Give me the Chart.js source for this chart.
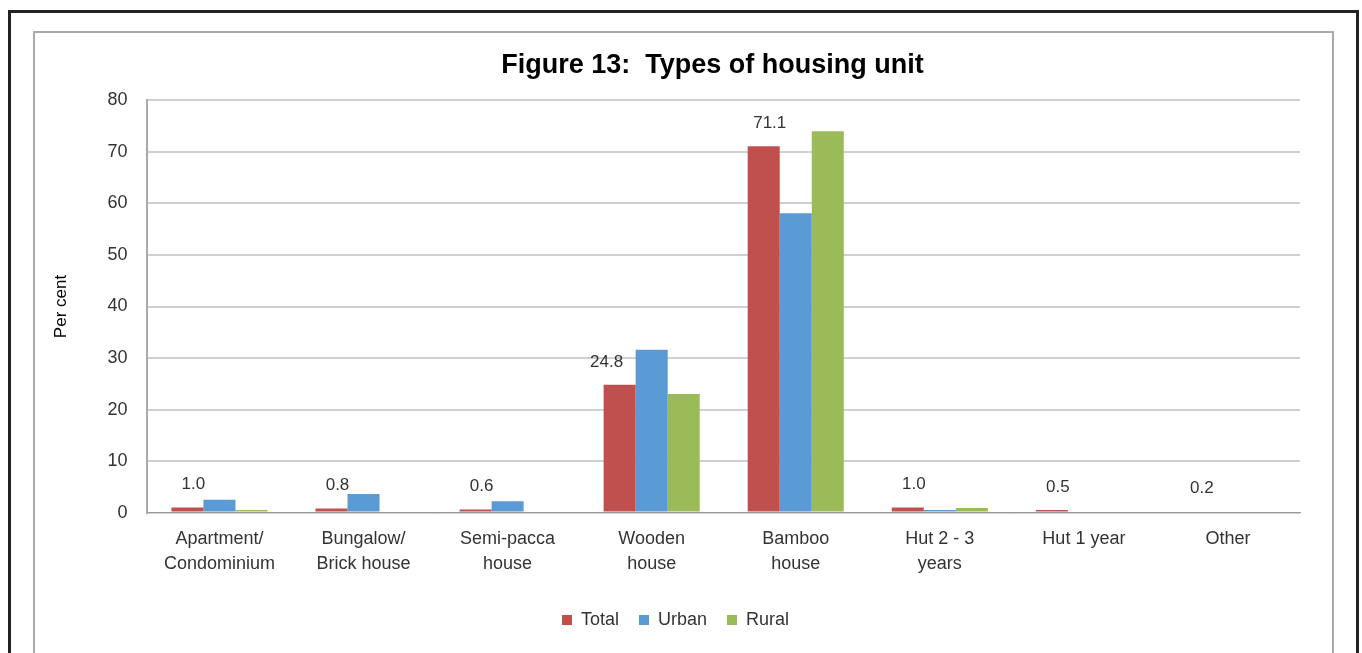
<!DOCTYPE html>
<html>
<head>
<meta charset="utf-8">
<script src="https://cdn.jsdelivr.net/npm/chart.js@4"></script>
<style>
  html, body { margin: 0; padding: 0; background: #fff; overflow: hidden; }
  #outer { position: absolute; left: 8px; top: 10px; width: 1345px; height: 700px; border: 3px solid #222; border-bottom: none; }
  #inner { position: absolute; left: 33px; top: 31px; width: 1297px; height: 700px; border: 2px solid #aaa; border-bottom: none; }
  #wrap { position: absolute; left: 0; top: 0; width: 1362px; height: 653px; }
</style>
</head>
<body>
<div id="outer"></div>
<div id="inner"></div>
<div id="wrap"><canvas id="grafico"></canvas></div>
<script>
// categorias e valores
const categorias = [
    ["Apartment/", "Condominium"], ["Bungalow/", "Brick house"], ["Semi-pacca", "house"],
    ["Wooden", "house"], ["Bamboo", "house"], ["Hut 2 - 3", "years"], "Hut 1 year", "Other"
];
const total = [1.0, 0.8, 0.6, 24.8, 71.1, 1.0, 0.5, 0.2];
const urban = [2.5, 3.6, 2.2, 31.6, 58.1, 0.5, 0, 0];
const rural = [0.5, 0, 0, 23.0, 74.0, 0.9, 0, 0];
const rotulosTotal = ["1.0", "0.8", "0.6", "24.8", "71.1", "1.0", "0.5", "0.2"];

const fonte = "'Liberation Sans', Arial, sans-serif";
const corTexto = "#333333";

// desenha os rotulos so da serie Total, acima das barras
const rotulosPlugin = {
    id: "rotulosTotal",
    afterDatasetsDraw(chart) {
        const ctx = chart.ctx;
        const meta = chart.getDatasetMeta(0);
        ctx.save();
        ctx.font = "17px " + fonte;
        ctx.fillStyle = corTexto;
        ctx.textAlign = "center";
        ctx.textBaseline = "middle";
        meta.data.forEach((bar, i) => {
            let dx = 6;
            if (i === 3) dx = -13;
            ctx.fillText(rotulosTotal[i], bar.x + dx, bar.y - 23);
        });
        ctx.restore();
    }
};

new Chart(document.getElementById("grafico"), {
    type: "bar",
    data: {
        labels: categorias,
        datasets: [
            { label: "Total", data: total, backgroundColor: "#C0504D" },
            { label: "Urban", data: urban, backgroundColor: "#5B9BD5" },
            { label: "Rural", data: rural, backgroundColor: "#9BBB59" }
        ]
    },
    options: {
        responsive: true,
        maintainAspectRatio: false,
        animation: false,
        datasets: { bar: { categoryPercentage: 0.667, barPercentage: 1.0 } },
        layout: { padding: { left: 51, right: 62, top: 49, bottom: 14 } },
        plugins: {
            title: {
                display: true,
                fullSize: false,
                text: "Figure 13:  Types of housing unit   ",
                color: "#000",
                font: { family: fonte, size: 27, weight: "bold" },
                padding: { top: 0, bottom: 19 }
            },
            legend: {
                position: "bottom",
                labels: {
                    color: corTexto,
                    font: { family: fonte, size: 18 },
                    boxWidth: 10,
                    boxHeight: 10,
                    padding: 20
                }
            },
            tooltip: { enabled: false }
        },
        scales: {
            x: {
                grid: { display: false, drawTicks: false },
                border: { color: "#999" },
                ticks: {
                    color: corTexto,
                    font: { family: fonte, size: 18, lineHeight: 1.4 },
                    maxRotation: 0,
                    autoSkip: false,
                    padding: 14
                }
            },
            y: {
                min: 0,
                max: 80,
                grid: { color: "#d0d0d0", lineWidth: 2, drawTicks: false },
                border: { color: "#aaa", width: 2 },
                ticks: {
                    stepSize: 10,
                    color: corTexto,
                    font: { family: fonte, size: 18 },
                    padding: 20
                },
                title: {
                    display: true,
                    text: "Per cent",
                    color: "#000",
                    font: { family: fonte, size: 17 },
                    padding: { top: 0, bottom: 16 }
                }
            }
        }
    },
    plugins: [rotulosPlugin]
});
</script>
</body>
</html>
